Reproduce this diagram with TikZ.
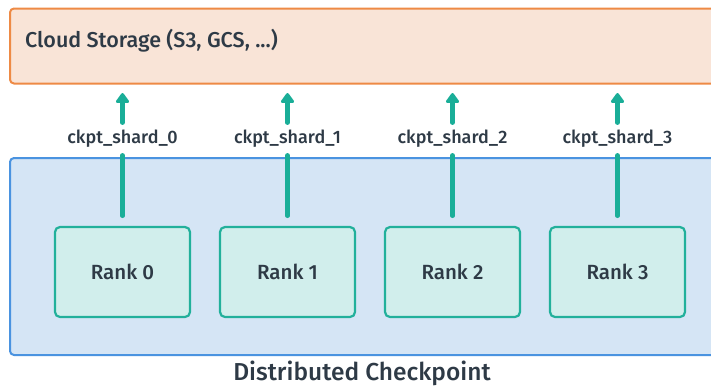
\documentclass[tikz,border=0pt]{standalone}
\usepackage{fontspec}
\setmainfont{Fira Sans Medium}
\usetikzlibrary{arrows.meta}
\definecolor{inkc}{HTML}{2E3A46}
\definecolor{orangeline}{HTML}{EE8A45}
\definecolor{orangefill}{HTML}{F9E4D7}
\definecolor{blueline}{HTML}{4A93E0}
\definecolor{bluefill}{HTML}{D5E5F5}
\definecolor{tealline}{HTML}{22B09B}
\definecolor{tealfill}{HTML}{D1EEEC}
\definecolor{arrowc}{HTML}{1AAE98}
\tikzset{
  panel/.style={draw, line width=2pt, rounded corners=4pt},
  rankbox/.style={draw=tealline, fill=tealfill, line width=2.2pt, rounded corners=5pt,
    minimum width=135pt, minimum height=90pt, inner sep=0pt,
    font=\fontsize{20.5}{22}\selectfont, text=inkc},
  shardlbl/.style={fill=white, inner sep=0pt, minimum height=27pt,
    font=\fontsize{18}{20}\selectfont, text=inkc},
  flow/.style={draw=arrowc, line width=4.2pt, line cap=round},
}
\begin{document}
\begin{tikzpicture}[x=1pt, y=-1pt]
  \useasboundingbox (0,0) rectangle (711,386);
  \clip (0,0) rectangle (711,386);
  % storage and checkpoint panels (run past the right edge)
  \draw[panel, draw=orangeline, fill=orangefill] (10,8.5) rectangle (730,83.5);
  \node[anchor=west, inner sep=0pt, text=inkc, font=\fontsize{21.5}{24}\selectfont]
    (cloud) at (25,41) {Cloud Storage (S3, GCS, ...)};
  \draw[panel, draw=blueline, fill=bluefill] (10,158) rectangle (730,355);
  \node[text=inkc, font=\fontsize{24.5}{26}\selectfont, inner sep=0pt]
    (dcp) at (362,373) {Distributed Checkpoint};
  % ranks, shard labels and upload arrows
  \foreach \i/\x in {0/122.5, 1/287.5, 2/452.5, 3/617.5} {
    \node[rankbox] (r\i) at (\x,272) {Rank \i};
    \node[shardlbl] (s\i) at (\x,139) {ckpt\_shard\_\i};
    \coordinate (c\i) at (\x,83.5);
    \draw[flow, shorten <=10pt, shorten >=2.5pt] (r\i.north) -- (s\i.south);
    \draw[flow, shorten <=2.5pt, shorten >=9.5pt, -{Triangle[width=15pt,length=11pt,round]}]
      (s\i.north) -- (c\i);
  }
\end{tikzpicture}
\end{document}
